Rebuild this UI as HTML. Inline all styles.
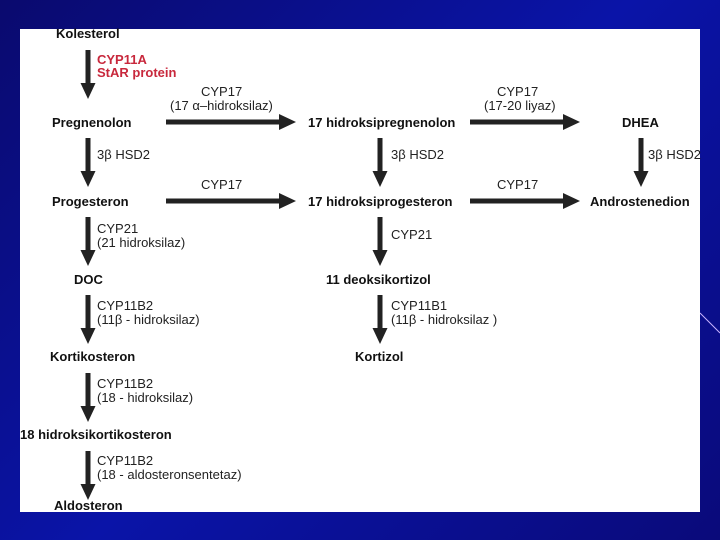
<!DOCTYPE html>
<html><head><meta charset="utf-8"><style>
body{margin:0;width:720px;height:540px;overflow:hidden;background:linear-gradient(135deg,#0a0a6e 0%,#0a14a8 50%,#0a0a7a 100%);}
svg{position:absolute;left:0;top:0}
text{font-family:"Liberation Sans",sans-serif;font-size:13px;fill:#222}
.b{font-weight:bold;fill:#111}
.r{font-weight:bold;fill:#c8283c}
</style></head><body>
<svg width="720" height="540" viewBox="0 0 720 540">
<defs>
<g id="v"><rect x="-2.5" y="0" width="5" height="34" fill="#222"/><polygon points="-7.5,33 7.5,33 0,49" fill="#222"/></g>
</defs>
<line x1="700" y1="313" x2="720" y2="333" stroke="#c8b4ff" stroke-width="1"/>
<rect x="20" y="29" width="680" height="483" fill="#fff"/>
<use href="#v" x="88" y="50"/>
<use href="#v" x="88" y="138"/>
<use href="#v" x="88" y="217"/>
<use href="#v" x="88" y="295"/>
<use href="#v" x="88" y="373"/>
<use href="#v" x="88" y="451"/>
<use href="#v" x="380" y="138"/>
<use href="#v" x="380" y="217"/>
<use href="#v" x="380" y="295"/>
<use href="#v" x="641" y="138"/>
<g fill="#222">
<rect x="166" y="119.5" width="116" height="5"/><polygon points="279,114 296,122 279,130"/>
<rect x="166" y="198.5" width="116" height="5"/><polygon points="279,193 296,201 279,209"/>
<rect x="470" y="119.5" width="96" height="5"/><polygon points="563,114 580,122 563,130"/>
<rect x="470" y="198.5" width="96" height="5"/><polygon points="563,193 580,201 563,209"/>
</g>
<text class="b" x="56" y="38">Kolesterol</text>
<text class="r" x="97" y="64">CYP11A</text>
<text class="r" x="97" y="77">StAR protein</text>
<text x="201" y="96">CYP17</text>
<text x="170" y="110">(17 α–hidroksilaz)</text>
<text x="497" y="96">CYP17</text>
<text x="484" y="110">(17-20 liyaz)</text>
<text class="b" x="52" y="127">Pregnenolon</text>
<text class="b" x="308" y="127">17 hidroksipregnenolon</text>
<text class="b" x="622" y="127">DHEA</text>
<text x="97" y="159">3β HSD2</text>
<text x="391" y="159">3β HSD2</text>
<text x="648" y="159">3β HSD2</text>
<text x="201" y="189">CYP17</text>
<text x="497" y="189">CYP17</text>
<text class="b" x="52" y="206">Progesteron</text>
<text class="b" x="308" y="206">17 hidroksiprogesteron</text>
<text class="b" x="590" y="206">Androstenedion</text>
<text x="97" y="233">CYP21</text>
<text x="97" y="247">(21 hidroksilaz)</text>
<text x="391" y="239">CYP21</text>
<text class="b" x="74" y="284">DOC</text>
<text class="b" x="326" y="284">11 deoksikortizol</text>
<text x="97" y="310">CYP11B2</text>
<text x="97" y="324">(11β - hidroksilaz)</text>
<text x="391" y="310">CYP11B1</text>
<text x="391" y="324">(11β - hidroksilaz )</text>
<text class="b" x="50" y="361">Kortikosteron</text>
<text class="b" x="355" y="361">Kortizol</text>
<text x="97" y="388">CYP11B2</text>
<text x="97" y="402">(18 - hidroksilaz)</text>
<text class="b" x="20" y="439">18 hidroksikortikosteron</text>
<text x="97" y="465">CYP11B2</text>
<text x="97" y="479">(18 - aldosteronsentetaz)</text>
<text class="b" x="54" y="510">Aldosteron</text>
</svg>
</body></html>
